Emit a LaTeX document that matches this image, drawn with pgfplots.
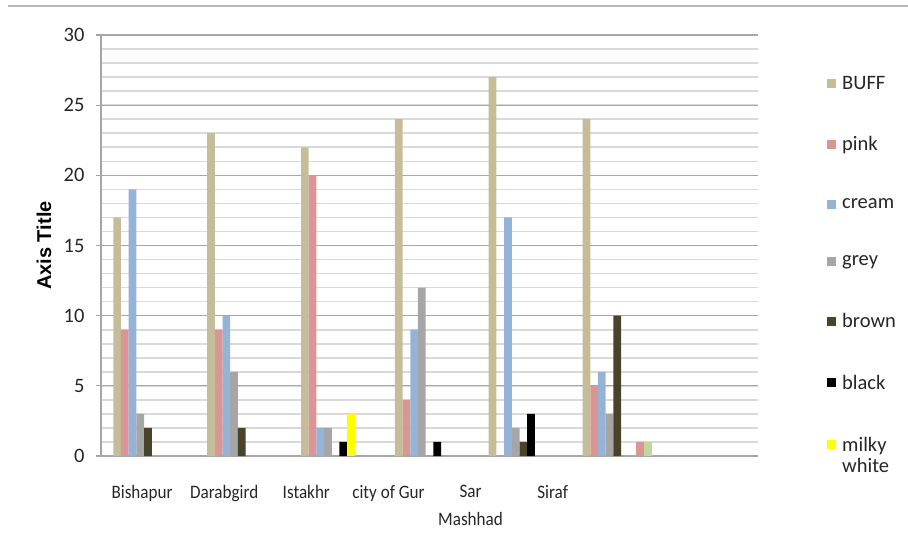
\documentclass[border=0pt]{standalone}
\usepackage{fontspec}
\setmainfont{Carlito}
\newfontfamily\titlefont{Liberation Sans}
\newfontfamily\labfont[FakeStretch=0.9]{Carlito}
\usepackage{pgfplots}
\pgfplotsset{compat=1.18}

\definecolor{buff}{HTML}{C4BD97}
\definecolor{pinkc}{HTML}{D99694}
\definecolor{creamc}{HTML}{95B3D7}
\definecolor{greyc}{HTML}{A6A6A6}
\definecolor{brownc}{HTML}{494429}
\definecolor{blackc}{HTML}{000000}
\definecolor{milkyc}{HTML}{FFFF00}
\definecolor{greenc}{HTML}{C3D69B}
\definecolor{majgrid}{HTML}{A6A6A6}
\definecolor{mingrid}{HTML}{D9D9D9}
\definecolor{txt}{HTML}{262626}

\begin{document}
\begin{tikzpicture}
\path[use as bounding box] (0,0) rectangle (908bp,-551bp);
% outer frame line along the top
\draw[color=greyc!80, line width=1.2bp] (8bp,-6bp) -- (908bp,-6bp);
\begin{axis}[
  at={(101bp,-456bp)}, anchor=south west,
  scale only axis, width=657bp, height=421bp,
  xmin=0, xmax=56, ymin=0, ymax=30,
  axis x line*=bottom, axis y line*=left,
  axis line style={color=majgrid, line width=1.2bp, -},
  ytick={0,5,...,30}, minor ytick={0,1,...,30},
  ymajorgrids, yminorgrids,
  major grid style={color=majgrid, line width=1.2bp},
  minor grid style={color=mingrid, line width=1.6bp},
  tick align=outside, major tick length=5bp, minor tick length=0pt,
  tick style={color=majgrid, line width=1.2bp},
  xtick={3.5,10.5,17.5,24.5,31.5,38.5}, xtick style={draw=none},
  xticklabels={Bishapur,Darabgird,Istakhr,city of Gur,Sar\\Mashhad,Siraf},
  xticklabel style={font=\labfont\fontsize{19bp}{28bp}\selectfont, text=txt, align=center, anchor=north, yshift=-21bp},
  yticklabel style={font=\fontsize{20.5bp}{24bp}\selectfont, text=txt, xshift=-8bp},
  /pgf/number format/assume math mode=true,
  ylabel={\titlefont\bfseries Axis Title},
  ylabel style={font=\fontsize{20bp}{22bp}\selectfont, text=black, at={(axis description cs:-0.0868,0.5)}, anchor=center},
  ybar, bar width=0.656,
  every axis plot/.append style={draw=none},
  legend image code/.code={\fill[#1] (0bp,-4.5bp) rectangle (9bp,4.5bp);},
  legend cell align=left,
  legend style={draw=none, fill=none, at={(1.105,0.903)}, anchor=north west,
    font=\fontsize{20.5bp}{21bp}\selectfont, text=txt, row sep=46bp,
    inner sep=0pt, nodes={inner sep=0pt},
    /tikz/every odd column/.append style={column sep=6bp}},
]
\addplot[fill=buff,   bar shift=-2.624] coordinates {(4,17) (12,23) (20,22) (28,24) (36,27) (44,24)};
\addplot[fill=pinkc,  bar shift=-1.968] coordinates {(4,9) (12,9) (20,20) (28,4) (44,5)};
\addplot[fill=creamc, bar shift=-1.312] coordinates {(4,19) (12,10) (20,2) (28,9) (36,17) (44,6)};
\addplot[fill=greyc,  bar shift=-0.656] coordinates {(4,3) (12,6) (20,2) (28,12) (36,2) (44,3)};
\addplot[fill=brownc, bar shift=0]      coordinates {(4,2) (12,2) (36,1) (44,10)};
\addplot[fill=blackc, bar shift=0.656]  coordinates {(20,1) (28,1) (36,3)};
\addplot[fill=milkyc, bar shift=1.312]  coordinates {(20,3)};
\addplot[fill=pinkc,  bar shift=1.968, forget plot] coordinates {(44,1)};
\addplot[fill=greenc, bar shift=2.624, forget plot] coordinates {(44,1)};
\legend{BUFF,pink,cream,grey,brown,black,{\begin{tabular}[t]{@{}l@{}}milky\\white\end{tabular}}}
\end{axis}
\end{tikzpicture}
\end{document}
